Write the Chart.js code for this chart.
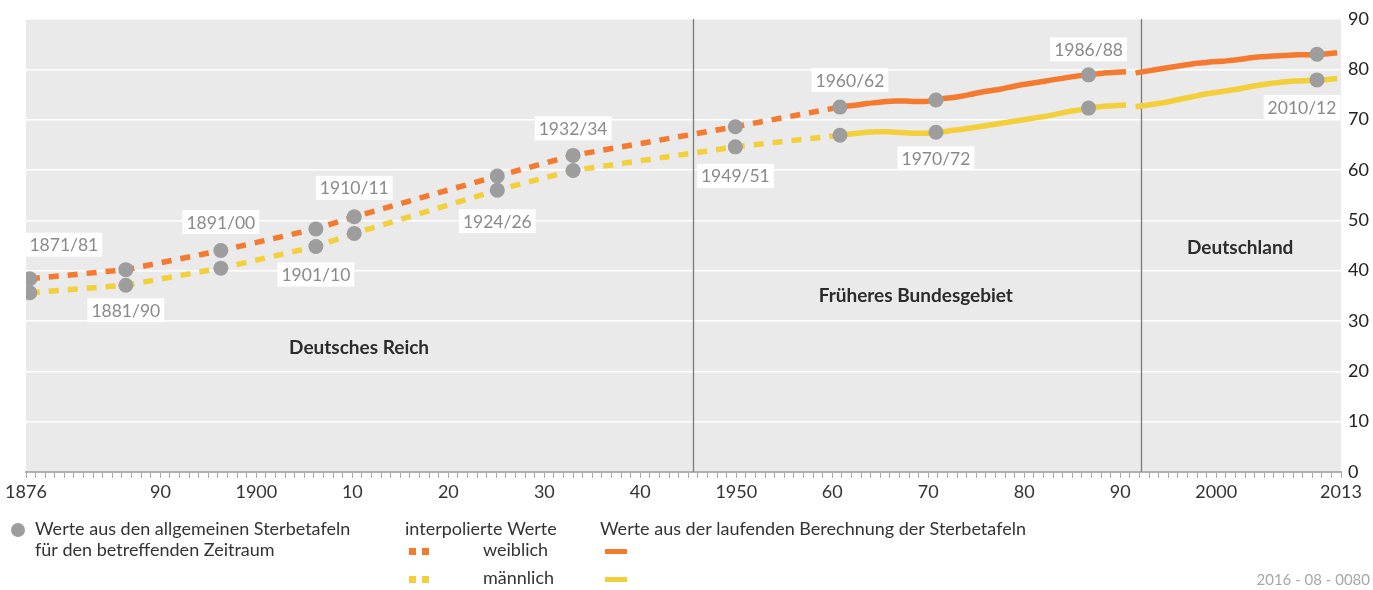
<!DOCTYPE html>
<html lang="de">
<head>
<meta charset="utf-8">
<title>Lebenserwartung bei Geburt</title>
<script src="https://cdn.jsdelivr.net/npm/chart.js@4.4.1/dist/chart.umd.min.js"></script>
<style>
  html, body { margin: 0; padding: 0; background: #fff; }
  #wrap { width: 1373px; height: 590px; }
</style>
</head>
<body>
<div id="wrap"><canvas id="lifeChart" width="1373" height="590"></canvas></div>
<script>
// allgemeine Sterbetafeln (Punkte), Lage auf der Zeitachse wie im Original
const periods = ["1871/81", "1881/90", "1891/00", "1901/10", "1910/11", "1924/26",
  "1932/34", "1949/51", "1960/62", "1970/72", "1986/88", "2010/12"];
const periodYears = [1876.4, 1886.4, 1896.3, 1906.2, 1910.2, 1925.1,
  1933.0, 1949.9, 1960.8, 1970.8, 1986.7, 2010.5];
const femalePeriods = [38.4, 40.2, 44.0, 48.3, 50.7, 58.8, 62.9, 68.6, 72.5, 73.9, 78.9, 83.0];
const malePeriods = [35.6, 37.1, 40.5, 44.8, 47.4, 56.0, 59.9, 64.6, 66.9, 67.5, 72.3, 77.9];
// interpoliert wird bis 1960/62
const interpolatedCount = 9;

// laufende Berechnung, Mitteljahr des Dreijahreszeitraums
const yearsWest = [1961, 1962, 1963, 1964, 1965, 1966, 1967, 1968, 1969, 1970,
  1971, 1972, 1973, 1974, 1975, 1976, 1977, 1978, 1979, 1980,
  1981, 1982, 1983, 1984, 1985, 1986, 1987, 1988, 1989, 1990, 1991];
const femaleWest = [72.4, 72.7, 72.9, 73.2, 73.4, 73.6, 73.7, 73.7, 73.6, 73.6,
  73.9, 74.2, 74.4, 74.7, 75.1, 75.5, 75.8, 76.1, 76.5, 76.9,
  77.2, 77.5, 77.8, 78.1, 78.4, 78.7, 78.9, 79.1, 79.3, 79.4, 79.5];
const maleWest = [66.9, 67.1, 67.3, 67.5, 67.6, 67.6, 67.5, 67.4, 67.3, 67.3,
  67.4, 67.6, 67.9, 68.1, 68.4, 68.7, 69.0, 69.3, 69.6, 69.9,
  70.2, 70.5, 70.8, 71.2, 71.6, 71.9, 72.2, 72.5, 72.7, 72.8, 72.9];
const yearsGermany = [1992, 1993, 1994, 1995, 1996, 1997, 1998, 1999, 2000, 2001, 2002,
  2003, 2004, 2005, 2006, 2007, 2008, 2009, 2010, 2011, 2012, 2013];
const femaleGermany = [79.3, 79.6, 79.9, 80.2, 80.5, 80.8, 81.1, 81.3, 81.5, 81.6, 81.8,
  82.0, 82.3, 82.5, 82.6, 82.7, 82.8, 82.9, 82.9, 83.0, 83.1, 83.3];
const maleGermany = [72.6, 72.8, 73.1, 73.4, 73.8, 74.2, 74.6, 75.0, 75.3, 75.6, 75.9,
  76.2, 76.6, 76.9, 77.2, 77.4, 77.6, 77.7, 77.8, 77.9, 78.0, 78.2];

// Gebietsstand
const borderYears = [1945.5, 1992.2];
const regions = ["Deutsches Reich", "Früheres Bundesgebiet", "Deutschland"];
const regionYears = [1910.7, 1968.7, 2002.5];
const regionValues = [24.6, 35.0, 44.6];

// Achsenbeschriftung
const xTickYears = [1876, 1890, 1900, 1910, 1920, 1930, 1940, 1950, 1960, 1970, 1980, 1990, 2000, 2013];
const xTickLabels = ["1876", "90", "1900", "10", "20", "30", "40", "1950", "60", "70", "80", "90", "2000", "2013"];

const ORANGE = "#f47a2f";
const YELLOW = "#f2cf3b";
const GREY_DOT = "#9d9d9d";
const FONT = "Lato, 'Noto Sans', sans-serif";

// Mitteljahr sitzt im Original etwas links vom Jahresstrich
const midShift = -0.4;

function points(xs, ys, shift) {
  return xs.map((x, i) => ({ x: x + (shift || 0), y: ys[i] }));
}

// Lage der Beschriftung zu den Punkten: dy < 0 über dem Frauenwert, sonst unter dem Männerwert
const labelPlacement = [
  { dx: 34, dy: -34 }, { dx: 0, dy: 25 }, { dx: 0, dy: -28.5 }, { dx: 0, dy: 28 },
  { dx: 0, dy: -29 }, { dx: 0, dy: 31 }, { dx: 0, dy: -27 }, { dx: 0, dy: 29 },
  { dx: 10, dy: -27 }, { dx: 0, dy: 26 }, { dx: 0, dy: -25.5 }, { dx: -15, dy: 27 }
];

const allYears = [];
for (let y = 1876; y <= 2013; y++) allYears.push(y);

const plotBackground = {
  id: "plotBackground",
  beforeDraw(chart) {
    const { ctx, chartArea: a } = chart;
    ctx.save();
    ctx.fillStyle = "#e9eae9";
    ctx.fillRect(a.left, a.top, a.right - a.left, a.bottom - a.top);
    ctx.restore();
  }
};

const regionMarks = {
  id: "regionMarks",
  beforeDatasetsDraw(chart) {
    const { ctx, chartArea: a, scales } = chart;
    ctx.save();
    ctx.strokeStyle = "#7a7a7a";
    ctx.lineWidth = 1.3;
    borderYears.forEach((yr) => {
      const x = Math.round(scales.x.getPixelForValue(yr)) + 0.5;
      ctx.beginPath();
      ctx.moveTo(x, a.top);
      ctx.lineTo(x, a.bottom);
      ctx.stroke();
    });
    ctx.fillStyle = "#2b2b2b";
    ctx.font = "bold 19px " + FONT;
    ctx.textAlign = "center";
    ctx.textBaseline = "middle";
    regions.forEach((name, i) => {
      ctx.fillText(name, scales.x.getPixelForValue(regionYears[i]), scales.y.getPixelForValue(regionValues[i]));
    });
    ctx.restore();
  }
};

const periodLabels = {
  id: "periodLabels",
  afterDatasetsDraw(chart) {
    const { ctx, scales } = chart;
    ctx.save();
    ctx.font = "17.5px " + FONT;
    ctx.textAlign = "center";
    ctx.textBaseline = "middle";
    periods.forEach((txt, i) => {
      const p = labelPlacement[i];
      const ref = p.dy < 0 ? femalePeriods[i] : malePeriods[i];
      const cx = scales.x.getPixelForValue(periodYears[i]) + p.dx;
      const cy = scales.y.getPixelForValue(ref) + p.dy;
      const w = ctx.measureText(txt).width + 8;
      ctx.fillStyle = "#ffffff";
      ctx.fillRect(cx - w / 2, cy - 12, w, 24);
      ctx.fillStyle = "#8a8a8a";
      ctx.fillText(txt, cx, cy + 1);
    });
    ctx.restore();
  }
};

const bottomLegend = {
  id: "bottomLegend",
  afterDraw(chart) {
    const ctx = chart.ctx;
    ctx.save();
    ctx.font = "18px " + FONT;
    ctx.textBaseline = "middle";
    ctx.textAlign = "left";
    ctx.fillStyle = GREY_DOT;
    ctx.beginPath();
    ctx.arc(18, 530, 7, 0, Math.PI * 2);
    ctx.fill();
    ctx.fillStyle = "#333";
    ctx.fillText("Werte aus den allgemeinen Sterbetafeln", 35, 529);
    ctx.fillText("für den betreffenden Zeitraum", 35, 550);
    ctx.fillText("interpolierte Werte", 405, 529);
    ctx.fillText("weiblich", 483, 550);
    ctx.fillText("männlich", 483, 578);
    ctx.fillText("Werte aus der laufenden Berechnung der Sterbetafeln", 600, 529);
    [[ORANGE, 548], [YELLOW, 576]].forEach(([c, y]) => {
      ctx.fillStyle = c;
      ctx.fillRect(409, y, 7, 7);
      ctx.fillRect(422, y, 7, 7);
      ctx.fillRect(605, y + 1, 22, 5);
    });
    ctx.fillStyle = "#a8a8a8";
    ctx.font = "15px " + FONT;
    ctx.textAlign = "right";
    ctx.fillText("2016 - 08 - 0080", 1370, 580);
    ctx.restore();
  }
};

const lineBase = {
  type: "line",
  borderWidth: 5.5,
  pointRadius: 0,
  fill: false,
  order: 1,
  borderCapStyle: "butt"
};

new Chart(document.getElementById("lifeChart"), {
  type: "line",
  data: {
    datasets: [
      {
        type: "line",
        label: "Allgemeine Sterbetafeln",
        data: points(periodYears, femalePeriods).concat(points(periodYears, malePeriods)),
        showLine: false,
        pointRadius: 7.5,
        pointBackgroundColor: GREY_DOT,
        pointBorderWidth: 0,
        order: 0
      },
      Object.assign({}, lineBase, {
        label: "weiblich interpoliert",
        data: points(periodYears.slice(0, interpolatedCount), femalePeriods.slice(0, interpolatedCount)),
        borderColor: ORANGE,
        borderDash: [10, 9]
      }),
      Object.assign({}, lineBase, {
        label: "männlich interpoliert",
        data: points(periodYears.slice(0, interpolatedCount), malePeriods.slice(0, interpolatedCount)),
        borderColor: YELLOW,
        borderDash: [10, 9]
      }),
      Object.assign({}, lineBase, {
        label: "weiblich früheres Bundesgebiet",
        data: points(yearsWest, femaleWest, midShift),
        borderColor: ORANGE,
        cubicInterpolationMode: "monotone"
      }),
      Object.assign({}, lineBase, {
        label: "männlich früheres Bundesgebiet",
        data: points(yearsWest, maleWest, midShift),
        borderColor: YELLOW,
        cubicInterpolationMode: "monotone"
      }),
      Object.assign({}, lineBase, {
        label: "weiblich Deutschland",
        data: points(yearsGermany, femaleGermany, midShift),
        borderColor: ORANGE,
        cubicInterpolationMode: "monotone"
      }),
      Object.assign({}, lineBase, {
        label: "männlich Deutschland",
        data: points(yearsGermany, maleGermany, midShift),
        borderColor: YELLOW,
        cubicInterpolationMode: "monotone"
      })
    ]
  },
  options: {
    responsive: false,
    animation: false,
    events: [],
    layout: { padding: { left: 26, right: 0, top: 19, bottom: 88 } },
    plugins: {
      legend: { display: false },
      tooltip: { enabled: false }
    },
    scales: {
      x: {
        type: "linear",
        min: 1876,
        max: 2013,
        afterBuildTicks: (axis) => {
          axis.ticks = allYears.map((v) => ({ value: v }));
        },
        afterFit: (s) => { s.height = 30; },
        ticks: {
          autoSkip: false,
          maxRotation: 0,
          padding: 3,
          color: "#333",
          font: { family: FONT, size: 18 },
          callback: (v) => {
            const i = xTickYears.indexOf(v);
            return i >= 0 ? xTickLabels[i] : "";
          }
        },
        grid: { drawOnChartArea: false, drawTicks: true, tickLength: 6, color: "#aaaaaa", lineWidth: 1 },
        border: { display: true, color: "#b0b0b0", width: 2 }
      },
      y: {
        position: "right",
        min: 0,
        max: 90,
        afterFit: (s) => { s.width = 32; },
        ticks: {
          stepSize: 10,
          padding: 7,
          color: "#222",
          font: { family: FONT, size: 18 }
        },
        grid: { color: "#ffffff", lineWidth: 1.5, drawTicks: false },
        border: { display: false }
      }
    }
  },
  plugins: [plotBackground, regionMarks, periodLabels, bottomLegend]
});
</script>
</body>
</html>
